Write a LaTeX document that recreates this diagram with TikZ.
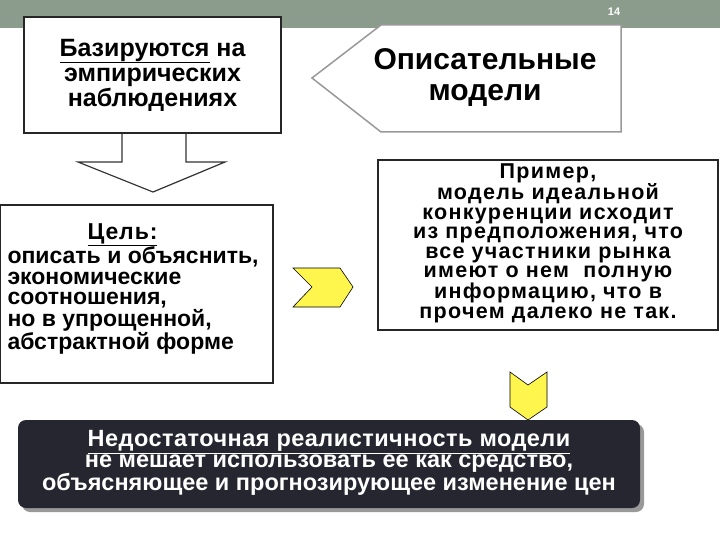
\documentclass[tikz,border=0pt]{standalone}
\usepackage{fontspec}
\setmainfont{Liberation Sans}
\newcommand{\myul}[1]{\underline{#1}}
\begin{document}
\begin{tikzpicture}[x=1pt,y=-1pt,
  txt/.style={font=\bfseries, align=center, text=black},
  yel/.style={fill=yellow!70!white, draw=black, line width=0.6pt}]
\useasboundingbox (0,0) rectangle (720,540);
\fill[white] (0,0) rectangle (720,540);
\fill[fill={rgb,255:red,140;green,156;blue,140}] (0,0) rectangle (720,28);
\node (num) at (614,12) {\textcolor{white}{\bfseries\fontsize{11}{12}\selectfont 14}};
% down arrow
\draw[line width=1.2pt, draw=black!80, fill=white] (122,130) -- (122,162) -- (78,162) -- (153,192) -- (225,162) -- (186,162) -- (186,130);
% box1
\node[draw=black!85, line width=1.5pt, fill=white, minimum width=257, minimum height=116, txt, font=\bfseries\fontsize{25}{25}\selectfont] (b1) at (152.5,75) {\myul{Базируются} на\\эмпирических\\наблюдениях};
% pentagon
\draw[draw=black!40, line width=1.5pt, fill=white] (312,78) -- (381,25) -- (621,25) -- (621,132) -- (381,132) -- cycle;
\node[txt, font=\bfseries\fontsize{30}{31}\selectfont] (b2) at (485,78) {Описательные\\модели};
% example box
\node[draw=black!85, line width=1.5pt, fill=white, minimum width=340, minimum height=170, inner sep=0pt] (b3) at (548,245) {};
\node[txt, font=\bfseries\fontsize{21.5}{19.5}\selectfont, text width=336, align=center] (t3) at (548,243) {\addfontfeature{LetterSpace=6}Пример,\\модель идеальной\\конкуренции исходит\\из предположения, что\\все участники рынка\\имеют о нем \ полную\\информацию, что в\\прочем далеко не так.};
% goal box
\node[draw=black!85, line width=1.5pt, fill=white, minimum width=273, minimum height=178, inner sep=0pt] (b4) at (136.5,294) {};
\node[font=\bfseries\fontsize{23}{20.5}\selectfont, align=left, anchor=north west] (t4) at (4,220) {\addfontfeature{LetterSpace=4}\hspace*{80pt}\myul{Цель:}\\описать и объяснить,\\экономические\\соотношения,\\но в упрощенной,\\абстрактной форме};
% yellow arrows
\draw[yel] (293,268) -- (340,268) -- (353,287) -- (340,307) -- (293,307) -- (312,287) -- cycle;
\draw[yel] (510,372) -- (528,385) -- (547,372) -- (547,407) -- (528,420) -- (510,407) -- cycle;
% dark box
\fill[black!40, rounded corners=8pt] (22,424) rectangle (644,512);
\node[fill={rgb,255:red,38;green,38;blue,48}, rounded corners=8pt, minimum width=622, minimum height=88, inner sep=0pt] (b5) at (329,464) {};
\node[text=white, font=\bfseries\fontsize{23.5}{21}\selectfont, align=center] (t5) at (329,463) {\addfontfeature{LetterSpace=2}\myul{Недостаточная реалистичность модели}\\не мешает использовать ее как средство,\\объясняющее и прогнозирующее изменение цен};
\end{tikzpicture}
\end{document}
